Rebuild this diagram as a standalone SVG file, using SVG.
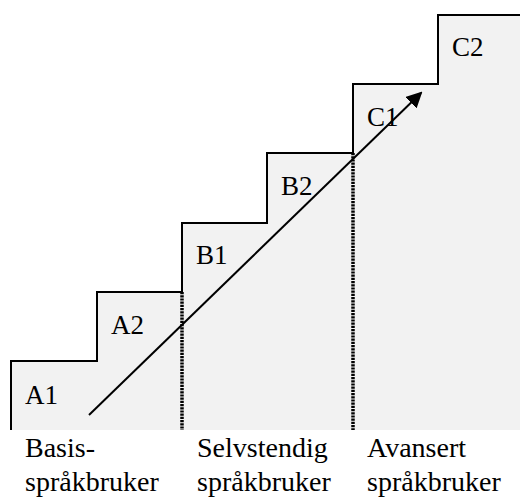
<svg xmlns="http://www.w3.org/2000/svg" width="520" height="497" viewBox="0 0 520 497">
<style>
.t{font-family:"Liberation Serif","Times New Roman",serif;fill:#000}
.lbl{font-size:27px}
.cap{font-size:28px}
.dot{stroke:#000;stroke-width:3.5;stroke-dasharray:2.2 1;fill:none}
</style>
<defs>
<marker id="ah" markerWidth="8" markerHeight="8" refX="7" refY="4" orient="auto" markerUnits="strokeWidth">
<path d="M0,0 L8,4 L0,8 Z" fill="#000"/>
</marker>
</defs>
<rect width="520" height="497" fill="#fff"/>
<g id="stairs">
<path d="M11,430 V361 H97 V292 H182 V223 H267 V153 H353 V84 H438 V15 H520 V430 Z" fill="#f2f2f2" stroke="none"/>
<path d="M11,430 V361 H97 V292 H182 V223 H267 V153 H353 V84 H438 V15 H520" fill="none" stroke="#000" stroke-width="2"/>
</g>
<g id="A1"><text class="t lbl" x="25" y="404">A1</text></g>
<g id="A2"><text class="t lbl" x="111" y="334">A2</text></g>
<g id="B1"><text class="t lbl" x="196" y="264">B1</text></g>
<g id="B2"><text class="t lbl" x="281" y="195">B2</text></g>
<g id="C1"><text class="t lbl" x="367" y="126">C1</text></g>
<g id="C2"><text class="t lbl" x="452" y="56">C2</text></g>
<g id="connectors">
<line class="dot" x1="182" y1="292" x2="182" y2="430"/>
<line class="dot" x1="353" y1="153" x2="353" y2="430"/>
<line x1="89" y1="415" x2="421" y2="93" stroke="#000" stroke-width="2" marker-end="url(#ah)"/>
</g>
<g id="basis"><text class="t cap" x="25" y="457">Basis-</text><text class="t cap" x="25" y="491">språkbruker</text></g>
<g id="selvstendig"><text class="t cap" x="197" y="457">Selvstendig</text><text class="t cap" x="197" y="491">språkbruker</text></g>
<g id="avansert"><text class="t cap" x="367" y="457">Avansert</text><text class="t cap" x="367" y="491">språkbruker</text></g>
</svg>
